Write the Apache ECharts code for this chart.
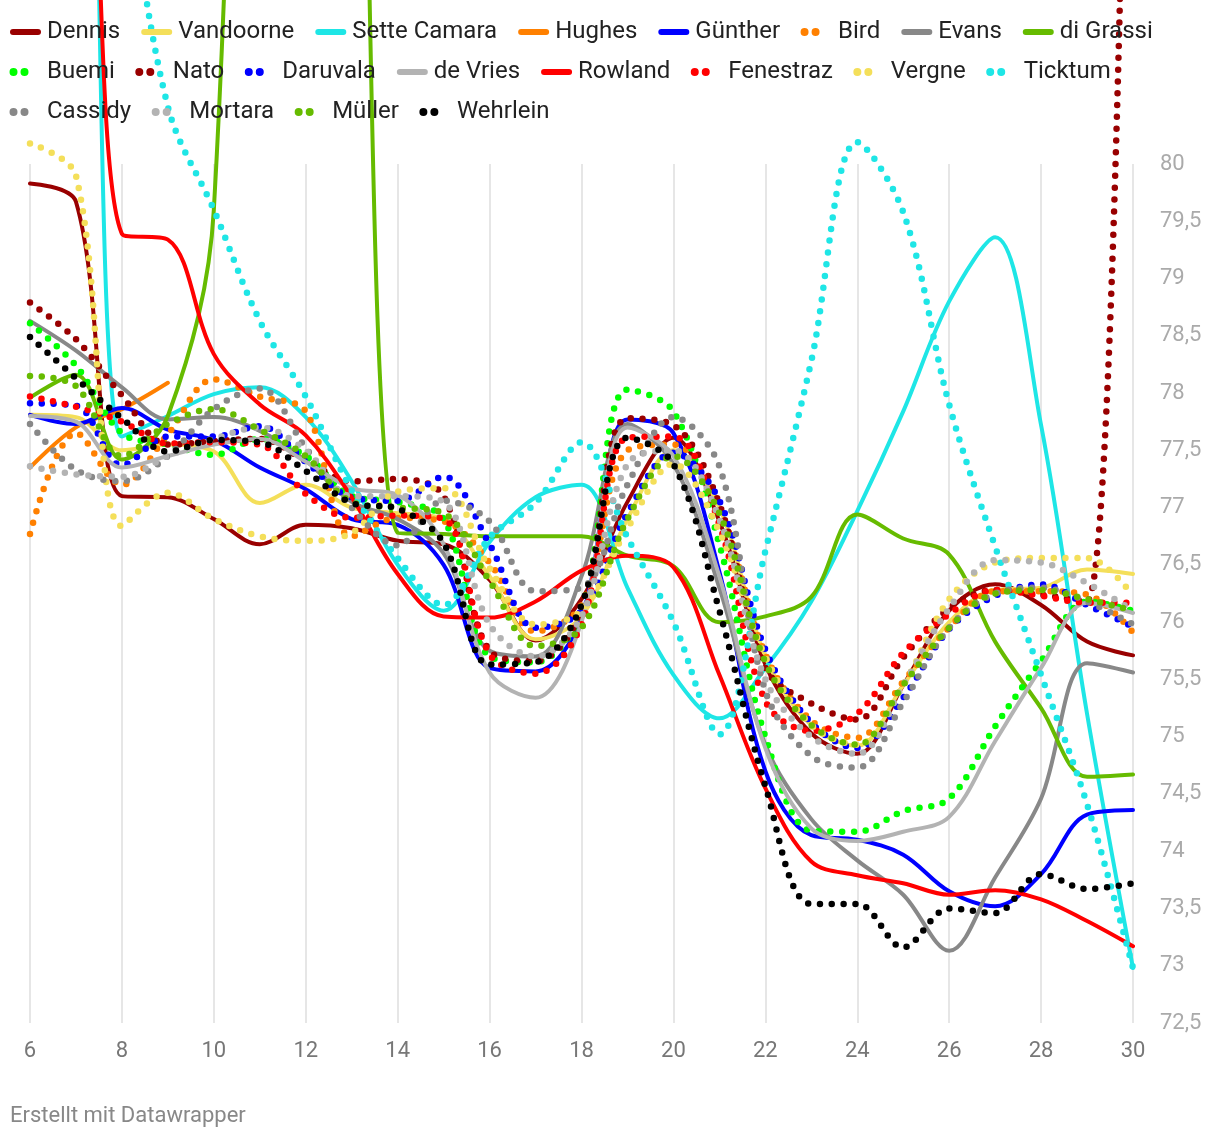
<!DOCTYPE html>
<html>
<head>
<meta charset="utf-8">
<script src="https://cdn.jsdelivr.net/npm/echarts@6/dist/echarts.min.js"></script>
<style>
html,body{margin:0;padding:0;background:#fff;}
#chart{width:1220px;height:1140px;}
</style>
</head>
<body>
<div id="chart"></div>
<script>
// Laps (x axis)
const laps = [6,7,8,9,10,11,12,13,14,15,16,17,18,19,20,21,22,23,24,25,26,27,28,29,30];
// Tick ranges
const yTicks = {min: 72.5, max: 80, step: 0.5};
const xTicks = {min: 6, max: 30, step: 2};

// Lap times per driver
const dennis      = [79.83,79.67,77.10,77.09,76.90,76.68,76.85,76.82,76.71,76.68,76.37,75.84,76.20,77.05,77.61,76.88,75.63,75.03,74.85,75.45,76.10,76.33,76.15,75.83,75.71];
const vandoorne   = [77.81,77.79,77.50,77.55,77.49,77.04,77.20,77.00,76.95,76.90,76.40,75.85,76.05,76.90,77.50,77.00,75.70,75.10,74.92,75.45,76.00,76.28,76.30,76.46,76.42];
const setteCamara = [85.5,85.5,77.62,77.80,77.99,78.05,77.79,77.23,76.50,76.10,76.70,77.09,77.20,76.30,75.54,75.16,75.60,76.18,76.97,77.84,78.80,79.36,77.72,75.20,72.98];
const hughes      = [77.35,77.70,77.86,78.09,null,null,null,null,null,null,null,null,null,null,null,null,null,null,null,null,null,null,null,null,null];
const guenther    = [77.81,77.73,77.87,77.68,77.59,77.35,77.16,76.90,76.85,76.50,75.60,75.57,76.04,77.77,77.65,76.44,74.70,74.14,74.10,73.97,73.65,73.52,73.80,74.32,74.36];
const bird        = [76.77,77.65,77.20,77.64,78.12,77.97,77.84,76.75,76.91,76.88,76.52,75.92,76.15,77.50,77.55,77.00,75.72,75.14,74.99,75.48,75.95,76.27,76.27,76.24,75.91];
const evans       = [78.63,78.37,78.05,77.77,77.79,77.67,77.41,77.05,76.90,76.60,75.75,75.70,76.40,77.73,77.38,76.30,74.93,74.28,73.92,73.62,73.13,73.77,74.46,75.64,75.56];
const diGrassi    = [77.96,78.16,77.42,77.80,79.60,92.0,95.0,88.0,76.78,76.77,76.75,76.75,76.75,76.58,76.49,76.00,76.05,76.22,76.94,76.73,76.59,75.83,75.25,74.65,74.67];
const buemi       = [78.61,78.24,77.65,77.55,77.46,77.60,77.45,77.10,77.05,76.90,75.70,75.65,76.10,78.03,77.84,76.68,75.00,74.18,74.17,74.35,74.46,75.09,75.66,76.18,76.10];
const nato        = [78.79,78.47,77.98,77.55,77.58,77.60,77.41,77.23,77.25,77.10,75.75,75.66,76.10,77.78,77.72,77.03,75.60,75.29,75.15,75.69,76.12,76.28,76.24,76.18,88.0];
const daruvala    = [77.91,77.89,77.37,77.62,77.62,77.71,77.40,77.09,77.06,77.27,76.68,75.95,76.10,76.95,77.48,77.06,75.76,75.12,74.90,75.34,75.94,76.23,76.33,76.15,75.96];
const deVries     = [77.80,77.75,77.35,77.45,77.55,77.60,77.40,77.17,77.11,76.68,75.56,75.34,76.00,77.70,77.45,76.40,74.90,74.20,74.09,74.17,74.30,74.96,75.60,76.17,76.08];
const rowland     = [84.0,84.0,79.39,79.34,78.34,77.90,77.63,77.09,76.42,76.05,76.04,76.18,76.45,76.58,76.48,75.54,74.55,73.91,73.79,73.72,73.62,73.66,73.58,73.39,73.17];
const fenestraz   = [77.97,77.88,77.75,77.56,77.57,77.55,77.12,76.91,76.93,76.90,75.72,75.55,75.98,77.61,77.62,76.85,75.31,75.05,75.20,75.73,76.07,76.28,76.23,76.17,76.17];
const vergne      = [80.18,79.90,76.84,77.13,76.90,76.75,76.71,76.78,77.14,77.17,76.47,75.98,76.10,76.82,77.38,76.79,75.70,75.10,74.93,75.45,76.20,76.52,76.56,76.56,76.23];
const ticktum     = [86.0,85.0,82.8,80.5,79.60,78.63,77.97,77.15,76.56,76.15,76.74,77.04,77.57,76.74,76.00,75.02,76.62,78.28,80.19,79.58,77.90,76.66,75.54,74.41,72.98];
const cassidy     = [77.73,77.33,77.23,77.45,77.86,78.04,77.52,77.00,76.67,77.06,76.88,76.27,76.30,77.20,77.79,77.36,75.40,74.83,74.73,75.30,75.95,76.25,76.30,76.18,75.98];
const mortara     = [77.36,77.29,77.27,77.45,77.60,77.70,77.50,77.10,77.10,77.05,75.98,75.70,76.05,77.38,77.50,76.90,75.50,75.00,74.85,75.45,76.12,76.54,76.52,76.34,76.10];
const mueller     = [78.15,78.06,77.45,77.73,77.86,77.68,77.45,77.05,77.00,76.95,76.36,75.79,75.95,76.90,77.45,76.95,75.65,75.10,74.93,75.45,75.95,76.25,76.28,76.20,76.10];
const wehrlein    = [78.49,78.13,77.78,77.49,77.59,77.57,77.32,77.04,76.99,76.69,75.63,75.65,76.15,77.61,77.38,76.10,74.57,73.54,73.54,73.16,73.50,73.46,73.80,73.67,73.72];

// Series list in legend order: [name, values, color, dotted]
const drivers = [
  ['Dennis', dennis, '#990000', false],
  ['Vandoorne', vandoorne, '#f4df5a', false],
  ['Sette Camara', setteCamara, '#1ee6e6', false],
  ['Hughes', hughes, '#ff8000', false],
  ['Günther', guenther, '#0000ff', false],
  ['Bird', bird, '#ff8000', true],
  ['Evans', evans, '#888888', false],
  ['di Grassi', diGrassi, '#66bb00', false],
  ['Buemi', buemi, '#00ff00', true],
  ['Nato', nato, '#990000', true],
  ['Daruvala', daruvala, '#0000ff', true],
  ['de Vries', deVries, '#b3b3b3', false],
  ['Rowland', rowland, '#ff0000', false],
  ['Fenestraz', fenestraz, '#ff0000', true],
  ['Vergne', vergne, '#f4df5a', true],
  ['Ticktum', ticktum, '#1ee6e6', true],
  ['Cassidy', cassidy, '#888888', true],
  ['Mortara', mortara, '#b3b3b3', true],
  ['Müller', mueller, '#66bb00', true],
  ['Wehrlein', wehrlein, '#000000', true]
];
// Legend rows (names per row)
const legendRows = [
  ['Dennis','Vandoorne','Sette Camara','Hughes','Günther','Bird','Evans','di Grassi'],
  ['Buemi','Nato','Daruvala','de Vries','Rowland','Fenestraz','Vergne','Ticktum'],
  ['Cassidy','Mortara','Müller','Wehrlein']
];

const lineIcon = 'path://M4,1 L29,1 A3,3 0 0 1 29,7 L4,7 A3,3 0 0 1 4,1 Z M0,0 M33,8';
const dotsIcon = 'path://M0.5,4 A4,4 0 1 0 8.5,4 A4,4 0 1 0 0.5,4 Z M11.5,4 A4,4 0 1 0 19.5,4 A4,4 0 1 0 11.5,4 Z M0,0 M33,8';

const chart = echarts.init(document.getElementById('chart'), null, {renderer: 'canvas'});

const dottedOf = {};
drivers.forEach(function (d) { dottedOf[d[0]] = d[3]; });

const series = drivers.map(function (d) {
  const dotted = d[3];
  return {
    name: d[0],
    type: 'line',
    data: laps.map(function (x, i) { return [x, d[1][i]]; }),
    smooth: 0.35,
    showSymbol: false,
    symbol: 'none',
    clip: false,
    connectNulls: false,
    itemStyle: {color: d[2], borderWidth: 0},
    lineStyle: dotted
      ? {color: d[2], width: 6.5, type: [0, 11.8], cap: 'round', join: 'round'}
      : {color: d[2], width: 4, cap: 'round', join: 'round'},
    emphasis: {disabled: true},
    animation: false
  };
});

const rowCenters = [32, 72, 112];
const legends = legendRows.map(function (row, r) {
  return {
    left: 9,
    top: rowCenters[r] - 12,
    padding: 0,
    itemGap: 20,
    itemWidth: 33,
    itemHeight: 8,
    itemStyle: {borderWidth: 0},
    textStyle: {fontSize: 24, color: '#222222', fontFamily: 'Roboto'},
    selectedMode: false,
    data: row.map(function (n) { return {name: n, icon: dottedOf[n] ? dotsIcon : lineIcon}; })
  };
});

chart.setOption({
  animation: false,
  backgroundColor: '#ffffff',
  textStyle: {fontFamily: 'Roboto'},
  title: {
    text: 'Erstellt mit Datawrapper',
    left: 10,
    top: 1105,
    padding: 0,
    textStyle: {fontSize: 22, fontWeight: 'normal', color: '#888888', fontFamily: 'Roboto'}
  },
  legend: legends,
  grid: {left: 30, right: 87, top: 164, bottom: 117, containLabel: false},
  xAxis: {
    type: 'value',
    min: xTicks.min,
    max: xTicks.max,
    interval: xTicks.step,
    axisLine: {show: false},
    axisTick: {show: false},
    splitLine: {show: true, lineStyle: {color: '#e6e6e6', width: 2}},
    axisLabel: {fontSize: 22, color: '#777777', margin: 17, fontFamily: 'Roboto'}
  },
  yAxis: {
    type: 'value',
    position: 'right',
    min: yTicks.min,
    max: yTicks.max,
    interval: yTicks.step,
    axisLine: {show: false},
    axisTick: {show: false},
    splitLine: {show: false},
    axisLabel: {
      fontSize: 22, color: '#aaaaaa', margin: 27, fontFamily: 'Roboto',
      formatter: function (v) { return String(v).replace('.', ','); }
    }
  },
  series: series
});
</script>
</body>
</html>
